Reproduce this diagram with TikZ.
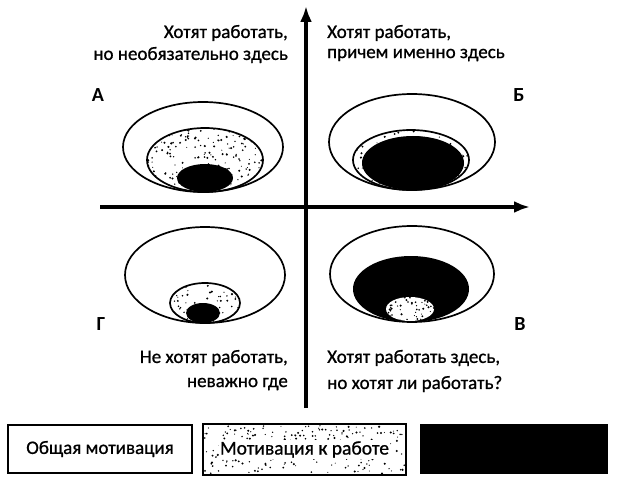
\documentclass[tikz,border=0pt]{standalone}
\usepackage{fontspec}
\setmainfont{Carlito}[UprightFeatures={FakeBold=0.9}]
\usetikzlibrary{arrows.meta}
\tikzset{
  ring/.style={draw=black, line width=1.7pt, fill=white},
  core/.style={fill=black},
  axis/.style={line width=3.5pt, -{Latex[length=16pt,width=12pt]}},
  lbl/.style={font=\fontsize{19}{22}\selectfont, inner sep=0pt},
  letter/.style={font=\fontsize{20}{22}\selectfont\bfseries, inner sep=0pt},
  legendbox/.style={draw=black, line width=1.8pt, inner sep=0pt}
}
% speckle helper: #1 cx, #2 cy, #3 rx, #4 ry, #5 count
\newcommand{\speckles}[5]{%
  \begin{scope}
    \clip (#1,#2) ellipse [x radius=#3, y radius=#4];
    \foreach \k in {1,...,#5}{
      \fill ({#1+#3*rand},{#2+#4*rand}) circle ({0.5+0.7*rnd});
    }
  \end{scope}}
\begin{document}
\begin{tikzpicture}[x=1pt,y=-1pt]
\pgfmathsetseed{12345}
\useasboundingbox (0,0) rectangle (618,489);
\fill[white] (0,0) rectangle (618,489);

% quadrant A
\draw[ring] (203,147) ellipse [x radius=80, y radius=45];
\draw[ring] (205,160) ellipse [x radius=58, y radius=32];
\speckles{205}{160}{58}{32}{220}
\fill[core] (205,178) ellipse [x radius=28, y radius=14];

% quadrant B
\draw[ring] (412,142) ellipse [x radius=83, y radius=48];
\draw[ring] (411,160) ellipse [x radius=58, y radius=30];
\speckles{411}{160}{58}{30}{160}
\fill[core] (413,163) ellipse [x radius=51, y radius=27];

% quadrant G
\draw[ring] (205,275) ellipse [x radius=80, y radius=48];
\draw[ring] (205,303) ellipse [x radius=35, y radius=20];
\speckles{205}{303}{35}{20}{80}
\fill[core] (203,313) ellipse [x radius=17, y radius=10];

% quadrant V
\draw[ring] (412,274) ellipse [x radius=82, y radius=48];
\fill[core] (411,289) ellipse [x radius=58, y radius=33];
\fill[white] (410,309) ellipse [x radius=24, y radius=12];
\speckles{410}{309}{24}{12}{60}

% axes
\coordinate (xs) at (100,207);
\coordinate (xe) at (530,207);
\coordinate (ys) at (306,408);
\coordinate (ye) at (306,6);
\draw[axis] (xs) -- (xe);
\draw[axis] (ys) -- (ye);

% corner letters
\node[letter] (lA) at (98,95) {А};
\node[letter] (lB) at (519,95) {Б};
\node[letter] (lG) at (101,324) {Г};
\node[letter] (lV) at (520,324) {В};

% quadrant texts
\node[lbl, anchor=east] (tl1) at (288,33) {Хотят работать,};
\node[lbl, anchor=east] (tl2) at (288,55) {но необязательно здесь};
\node[lbl, anchor=west] (tr1) at (327,33) {Хотят работать,};
\node[lbl, anchor=west] (tr2) at (327,55) {причем именно здесь};
\node[lbl, anchor=east] (bl1) at (288,358) {Не хотят работать,};
\node[lbl, anchor=east] (bl2) at (288,384) {неважно где};
\node[lbl, anchor=west] (br1) at (327,358) {Хотят работать здесь,};
\node[lbl, anchor=west] (br2) at (327,384) {но хотят ли работать?};

% legend
\node[legendbox, minimum width=184, minimum height=48, font=\fontsize{19}{22}\selectfont] (leg1) at (100,449) {Общая мотивация};
\node[legendbox, minimum width=202, minimum height=50] (leg2) at (304.5,449.5) {};
\begin{scope}
  \clip (leg2.south west) rectangle (leg2.north east);
  \foreach \k in {1,...,220}{
    \fill ({304.5+100*rand},{449.5+24*rand}) circle ({0.5+0.7*rnd});
  }
\end{scope}
\node[font=\fontsize{19.5}{22}\selectfont, fill=white, inner sep=1pt] (leg2t) at (leg2.center) {Мотивация к работе};
\draw[line width=1.8pt] (leg2.south west) rectangle (leg2.north east);
\node[fill=black, minimum width=188, minimum height=50, inner sep=0pt] (leg3) at (514,449) {};
\end{tikzpicture}
\end{document}
